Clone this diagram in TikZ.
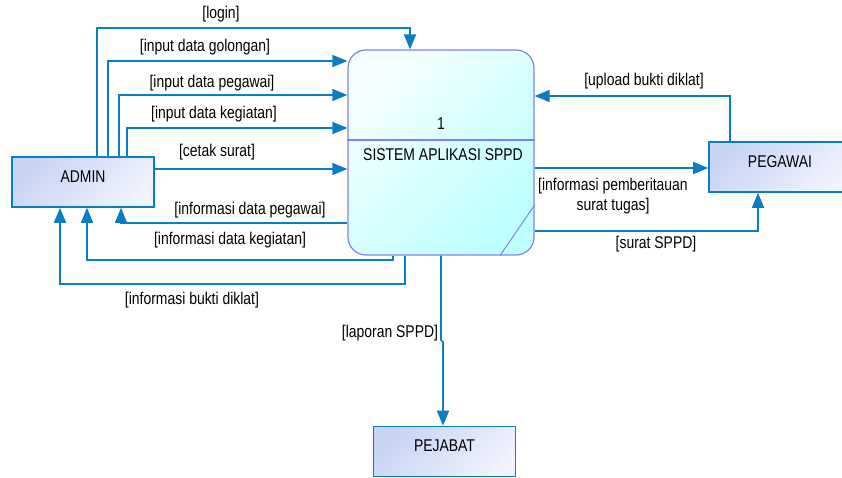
\documentclass[tikz,border=0pt]{standalone}
\usepackage{fontspec}
\setmainfont{Liberation Sans}[FakeStretch=0.82]
\usetikzlibrary{arrows.meta}
\definecolor{flowblue}{RGB}{10,125,195}
\definecolor{procline}{RGB}{128,128,255}
\definecolor{entdark}{RGB}{200,212,244}
\definecolor{entlight}{RGB}{240,242,253}
\definecolor{proclight}{RGB}{245,255,255}
\definecolor{procdark}{RGB}{190,255,255}
\begin{document}
\begin{tikzpicture}[x=1pt,y=-1pt,font=\fontsize{17}{20}\selectfont,
  flow/.style={draw=flowblue,line width=1.6pt,-{Triangle[length=15pt,width=12pt]}},
  entity/.style={draw=flowblue,line width=1.6pt,minimum width=142pt,minimum height=50pt,
    inner sep=0pt,text height=12pt,text depth=12pt,
    top color=entdark,bottom color=entlight,shading angle=45},
  lbl/.style={inner sep=0pt,align=center}]
\useasboundingbox (0,0) rectangle (842,477);
% entities and process
\node[entity] (admin) at (83,182) {ADMIN};
\node[entity] (pegawai) at (780,167) {PEGAWAI};
\node[entity] (pejabat) at (444.5,451.5) {PEJABAT};
\node[draw=procline,line width=1.2pt,rounded corners=18pt,minimum width=186pt,minimum height=205pt,
  top color=proclight,bottom color=procdark,shading angle=45] (sys) at (441,152.5) {};
\draw[procline,line width=1.2pt] (sys.west |- 0,140) -- (sys.east |- 0,140);
\draw[procline,line width=1pt] (sys.east |- 0,205) -- (sys.south -| 500,0);
\node (num) at (441,124) {1};
\node (sysname) at (443,155) {SISTEM APLIKASI SPPD};
% flows from admin
\draw[flow] (admin.north -| 97,0) |- (410,28) -- (sys.north -| 410,0);
\draw[flow] (admin.north -| 108,0) |- (sys.west |- 0,61);
\draw[flow] (admin.north -| 119,0) |- (sys.west |- 0,95);
\draw[flow] (admin.north -| 127,0) |- (sys.west |- 0,128);
\draw[flow] (admin.east |- 0,169) -- (sys.west |- 0,169);
% flows to admin
\draw[flow] (sys.west |- 0,223) -| (admin.south -| 121,0);
\draw[flow] (sys.south -| 393,0) |- (87,260) -- (admin.south -| 87,0);
\draw[flow] (sys.south -| 405,0) |- (60,284) -- (admin.south -| 60,0);
% pegawai and pejabat
\draw[flow] (pegawai.north -| 730,0) |- (sys.east |- 0,96);
\draw[flow] (sys.east |- 0,168) -- (pegawai.west |- 0,168);
\draw[flow] (sys.east |- 0,231) -| (pegawai.south -| 758,0);
\draw[flow] (sys.south -| 441,0) -- (441,340) -- (443,342) -- (pejabat.north -| 443,0);
% labels
\node[lbl] (llogin) at (221,14) {[login]};
\node[lbl] (lgol) at (205,47) {[input data golongan]};
\node[lbl] (lpeg) at (212,83) {[input data pegawai]};
\node[lbl] (lkeg) at (214,114) {[input data kegiatan]};
\node[lbl] (lcetak) at (217,152) {[cetak surat]};
\node[lbl] (linfopeg) at (250,210) {[informasi data pegawai]};
\node[lbl] (linfokeg) at (230,240) {[informasi data kegiatan]};
\node[lbl] (lbukti) at (192,300) {[informasi bukti diklat]};
\node[lbl] (lupload) at (644,81) {[upload bukti diklat]};
\node[lbl] (lberita) at (613,196) {[informasi pemberitauan\\surat tugas]};
\node[lbl] (lsppd) at (656,244) {[surat SPPD]};
\node[lbl] (llapor) at (390,333) {[laporan SPPD]};
\end{tikzpicture}
\end{document}
